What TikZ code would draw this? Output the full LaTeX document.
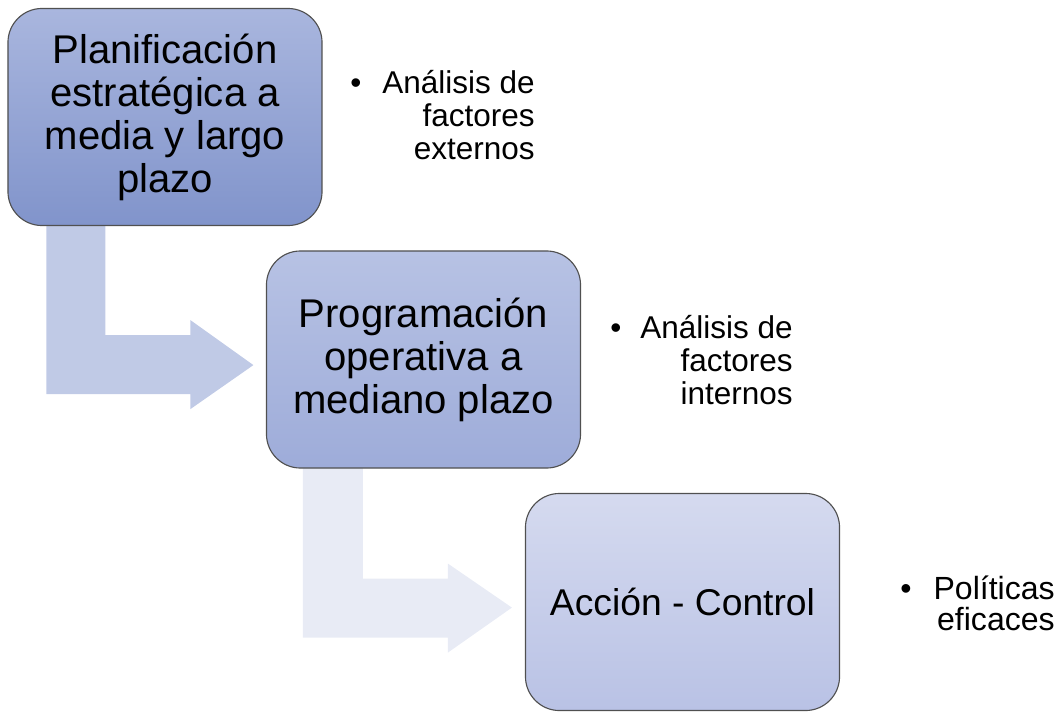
\documentclass[tikz,border=0pt]{standalone}
\usepackage{fontspec}
\setmainfont{Liberation Sans}
\usepackage{xcolor}
\usetikzlibrary{calc,backgrounds}
\definecolor{boxAtop}{HTML}{A9B6DE}
\definecolor{boxAbot}{HTML}{8194CB}
\definecolor{boxBtop}{HTML}{B7C2E4}
\definecolor{boxBbot}{HTML}{9EACD9}
\definecolor{boxCtop}{HTML}{D5DAEF}
\definecolor{boxCbot}{HTML}{B9C2E5}
\definecolor{arrA}{HTML}{C0CAE6}
\definecolor{arrB}{HTML}{E8EBF5}
\definecolor{edge}{HTML}{505050}

\begin{document}
\begin{tikzpicture}[x=0.025cm, y=-0.025cm,
  stage/.style={rectangle, rounded corners=0.85cm, draw=edge, line width=0.8pt,
    minimum width=7.85cm, minimum height=5.425cm, align=center,
    font=\fontsize{28.5}{30.6}\selectfont},
  bul/.style={inner sep=0pt, anchor=base, font=\fontsize{22.4}{23.5}\selectfont},
  note/.style={inner sep=0pt, align=right, anchor=east, font=\fontsize{22.4}{23.5}\selectfont}]
\useasboundingbox (0,0) rectangle (1059,711);

% Boxes
\node[stage, top color=boxAtop, bottom color=boxAbot] (plan) at (165,117)
  {Planificación\\estratégica a\\media y largo\\plazo};
\node[stage, top color=boxBtop, bottom color=boxBbot] (prog) at (423.5,359.5)
  {Programación\\operativa a\\mediano plazo};
\node[stage, top color=boxCtop, bottom color=boxCbot,
  font=\fontsize{26.5}{30.6}\selectfont] (accion) at (682.5,602)
  {Acción - Control};

% Bent arrows
\begin{scope}[on background layer]
\fill[arrA] ($(plan.south west)+(39,-10)$) -- ++(59,0) -- ++(0,119) -- ++(85,0)
  -- ++(0,-15) -- ++(63,45) -- ++(-63,44) -- ++(0,-15) -- ++(-144,0) -- cycle;
\fill[arrB] ($(prog.south west)+(37,-9)$) -- ++(60,0) -- ++(0,119) -- ++(85,0)
  -- ++(0,-15) -- ++(64,44) -- ++(-64,45) -- ++(0,-15) -- ++(-145,0) -- cycle;
\end{scope}

% Bullets
\node[bul] (b1) at (356,93) {•};
\node[note] (ext) at (535,115) {Análisis de\\factores\\externos};
\node[bul] (b2) at (616,338) {•};
\node[note] (int) at (793,360) {Análisis de\\factores\\internos};
\node[bul, font=\fontsize{22.8}{22}\selectfont] (b3) at (906,599) {•};
\node[note, font=\fontsize{22.8}{22}\selectfont] (pol) at (1055,603.5) {Políticas\\eficaces};
\end{tikzpicture}
\end{document}
